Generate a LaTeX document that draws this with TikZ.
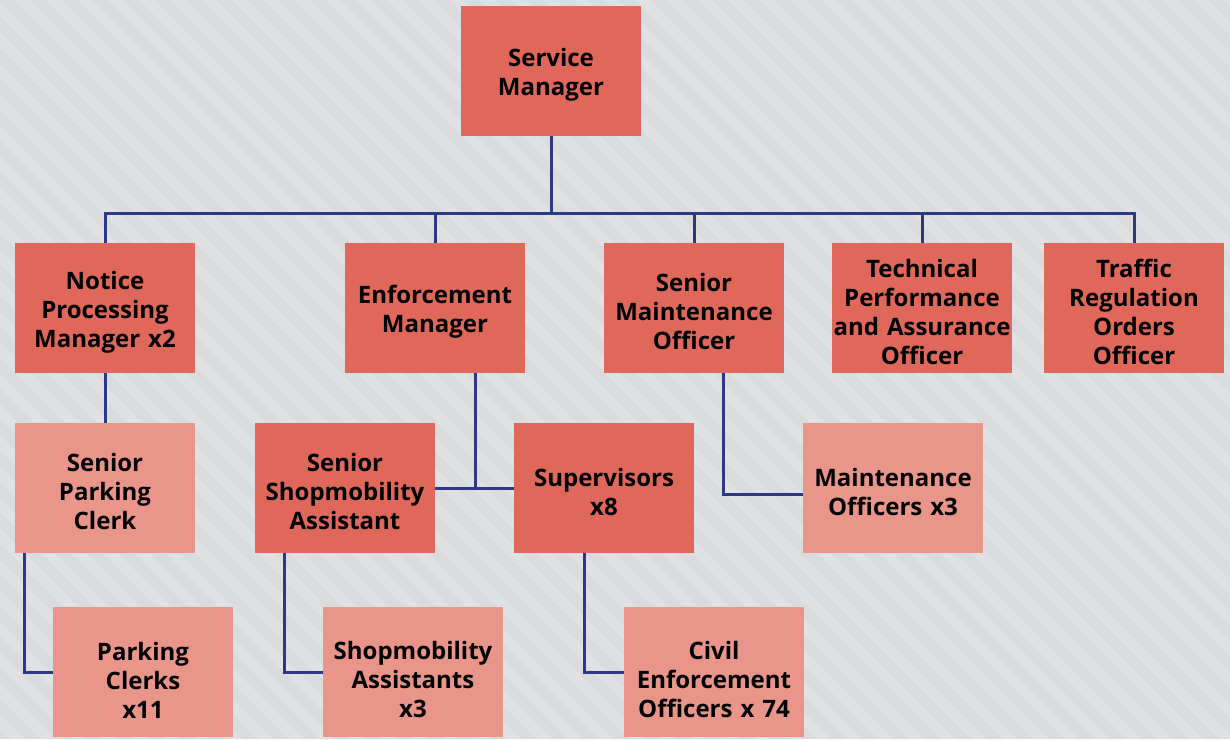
\documentclass[tikz,border=0pt]{standalone}
\usepackage{fontspec}
\setmainfont{Open Sans}
\usepackage{tikz}

\definecolor{bgc}{HTML}{DADBDD}
\definecolor{stripec}{HTML}{E0E1E3}
\definecolor{headc}{HTML}{DF685B}
\definecolor{staffc}{HTML}{E9958A}
\definecolor{linkc}{HTML}{2B3987}

\begin{document}
\begin{tikzpicture}[x=1pt, y=-1pt,
  post/.style={fill=headc, minimum width=180pt, minimum height=130pt, inner sep=0pt,
    align=center, text width=178pt, font=\fontsize{24}{29}\selectfont\bfseries,
    execute at begin node={\rule{0pt}{26pt}}},
  staff/.style={post, fill=staffc},
  low/.style={execute at begin node={\rule{0pt}{34pt}}},
  link/.style={draw=linkc, line width=3pt}]
  % background
  \fill[bgc] (0,0) rectangle (1230,739);
  \begin{scope}
    \clip (0,0) rectangle (1230,739);
    \foreach \i in {-760,-729,...,1240}
      \fill[stripec] (\i,0) -- ++(15,0) -- ++(739,739) -- ++(-15,0) -- cycle;
  \end{scope}
  \useasboundingbox (0,0) rectangle (1230,739);

  \coordinate (bus) at (0,213);
  \node[post] (sm) at (551,71) {Service\\Manager};

  \node[post] (npm) at (105,308) {Notice\\Processing\\Manager x2};
  \node[post] (em) at (435,308) {Enforcement\\Manager};
  \node[post] (smo) at (694,308) {Senior\\Maintenance\\Officer};
  \node[post] (tpa) at (922,308) {Technical\\Performance\\and Assurance\\Officer};
  \node[post] (tro) at (1134,308) {Traffic\\Regulation\\Orders\\Officer};

  \node[staff] (spc) at (105,488) {Senior\\Parking\\Clerk};
  \node[post] (ssa) at (345,488) {Senior\\Shopmobility\\Assistant};
  \node[post] (sup) at (604,488) {Supervisors\\x8};
  \node[staff] (mo) at (893,488) {Maintenance\\Officers x3};

  \node[staff, low] (pc) at (143,672) {Parking\\Clerks\\x11};
  \node[staff, low] (sa) at (413,672) {Shopmobility\\Assistants\\x3};
  \node[staff, low] (ceo) at (714,672) {Civil\\Enforcement\\Officers x 74};

  % lines
  \draw[link] (sm.south) -- (sm.south |- bus);
  \draw[link] (npm.north) -- (npm.north |- bus) -- (tro.north |- bus) -- (tro.north);
  \foreach \n in {em,smo,tpa}
    \draw[link] (\n.north) -- (\n.north |- bus);
  \draw[link] (npm.south) -- (spc.north);
  \draw[link] ([xshift=40]em.south) -- ([xshift=40]em.south |- sup.west);
  \draw[link] (ssa.east) -- (sup.west);
  \draw[link] ([xshift=29]smo.south) |- ([yshift=-6]mo.west);
  \draw[link] ([xshift=10]spc.south west) |- (pc.west);
  \draw[link] ([xshift=30]ssa.south west) |- (sa.west);
  \draw[link] ([xshift=71]sup.south west) |- (ceo.west);
\end{tikzpicture}
\end{document}
